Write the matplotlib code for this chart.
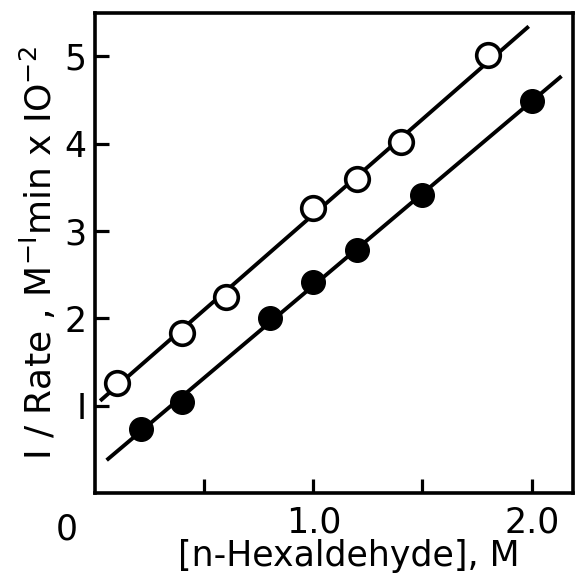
import numpy as np
import matplotlib.pyplot as plt

plt.rcParams['font.family'] = ['DejaVu Sans']
plt.rcParams['mathtext.default'] = 'regular'

# open circles
open_x = [0.10, 0.40, 0.60, 1.00, 1.20, 1.40, 1.80]
open_y = [1.26, 1.83, 2.25, 3.26, 3.60, 4.02, 5.02]
# filled circles
fill_x = [0.21, 0.40, 0.80, 1.00, 1.20, 1.50, 2.00]
fill_y = [0.73, 1.04, 2.00, 2.42, 2.78, 3.41, 4.49]

# fitted lines (end points)
open_line_x = [0.03, 1.98]
open_line_y = [1.07, 5.33]
fill_line_x = [0.06, 2.13]
fill_line_y = [0.39, 4.76]

fig = plt.figure(figsize=(5.76, 5.82), dpi=100)
ax = fig.add_axes([0.165, 0.153, 0.830, 0.825])

ax.plot(open_line_x, open_line_y, color='black', lw=2.8, zorder=1)
ax.plot(fill_line_x, fill_line_y, color='black', lw=2.8, zorder=1)
ax.plot(open_x, open_y, 'o', ms=17, mfc='white', mec='black', mew=2.6, zorder=3)
ax.plot(fill_x, fill_y, 'o', ms=17, mfc='black', mec='black', zorder=3)

ax.set_xlim(0, 2.19)
ax.set_ylim(0, 5.5)

ax.set_xticks([0.5, 1.0, 1.5, 2.0])
ax.set_xticklabels(['', '1.0', '', '2.0'])
ax.set_yticks([1, 2, 3, 4, 5])
ax.set_yticklabels(['I', '2', '3', '4', '5'])
ax.tick_params(direction='in', length=10, width=2.3, labelsize=25)
ax.tick_params(axis='x', pad=9)
ax.tick_params(axis='y', pad=6)
for s in ax.spines.values():
    s.set_linewidth(2.6)

ax.text(-0.13, -0.42, '0', fontsize=25, ha='center', va='center')

ax.set_xlabel('[n-Hexaldehyde], M', fontsize=25)
ax.xaxis.set_label_coords(0.53, -0.095)
ax.set_ylabel(r'I / Rate , M$^{-I}$min x IO$^{-2}$', fontsize=26, labelpad=4)

fig.savefig('out.png', dpi=100)
